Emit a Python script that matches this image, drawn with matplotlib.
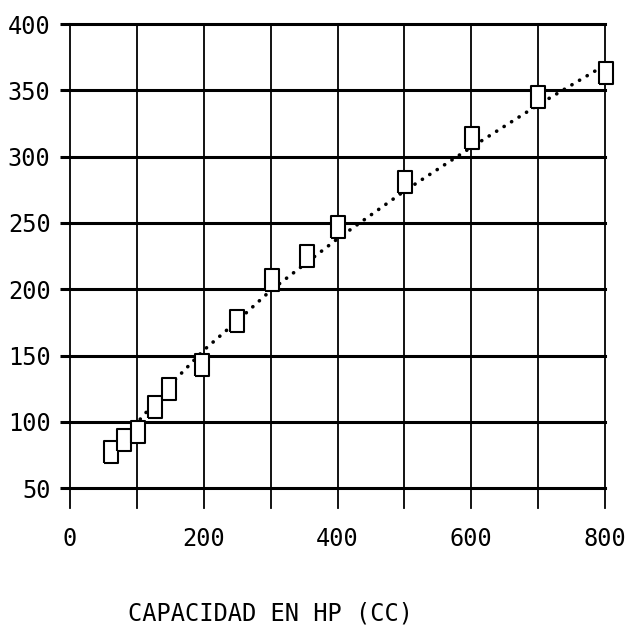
import matplotlib.pyplot as plt
from matplotlib.path import Path

# measured points
hp = [62, 80, 102, 127, 148, 198, 250, 302, 354, 401, 501, 601, 700, 801]
cc = [77, 86, 92, 111, 125, 143, 176, 207, 225, 247, 281, 314, 345, 363]

# trend curve read at a few x positions
trend_x = [105, 150, 200, 250, 300, 400, 500, 600, 700, 800]
trend_y = [102, 128, 154, 176, 199, 238, 274, 307, 339, 369]

xticks = [0, 200, 400, 600, 800]
yticks = [50, 100, 150, 200, 250, 300, 350, 400]

plt.rcParams['font.family'] = ['DejaVu Sans Mono', 'DejaVu Sans']

fig = plt.figure(figsize=(6.25, 6.28), dpi=100)
ax = fig.add_axes([70 / 625, 1 - 508 / 628, 535 / 625, 484 / 628])

box = Path([(-0.33, -0.5), (0.33, -0.5), (0.33, 0.5), (-0.33, 0.5), (-0.33, -0.5)])

ax.plot(trend_x, trend_y, color='black', lw=2.6, linestyle=(0, (0.05, 2.4)),
        dash_capstyle='round', zorder=3, clip_on=False)
ax.plot(hp, cc, linestyle='none', marker=box, markersize=16,
        markerfacecolor='white', markeredgecolor='black', markeredgewidth=1.5,
        zorder=4, clip_on=False)

ax.set_xlim(0, 800)
ax.set_ylim(35, 400)
ax.set_xticks(xticks)
ax.set_yticks(yticks)
ax.set_xticks(range(0, 801, 100), minor=True)

for s in ax.spines.values():
    s.set_visible(False)

ax.grid(True, axis='x', which='both', color='black', lw=1.3)
ax.grid(True, axis='y', color='black', lw=2.2)
for line in ax.get_xgridlines() + ax.get_ygridlines():
    line.set_clip_on(False)
for t in ax.xaxis.get_minor_ticks():
    t.gridline.set_clip_on(False)

ax.tick_params(axis='x', which='both', length=0, pad=14, labelsize=17)
ax.tick_params(axis='y', length=7, width=2.2, pad=7, labelsize=17)

fig.text(271 / 625, 1 - 613 / 628, 'CAPACIDAD EN HP (CC)', ha='center', va='center',
         fontsize=17)

plt.savefig('out.png', dpi=100)
